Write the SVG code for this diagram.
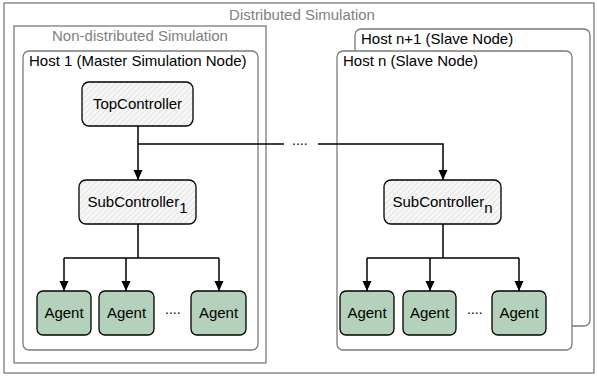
<svg xmlns="http://www.w3.org/2000/svg" width="597" height="378" viewBox="0 0 597 378">
<style>
.frame{fill:none;stroke:#7a7a7a;stroke-width:1.3}
.host{fill:#ffffff;stroke:#7a7a7a;stroke-width:1.3}
.glabel{font-family:"Liberation Sans",Arial,sans-serif;font-size:15px;fill:#808080}
.hlabel{font-family:"Liberation Sans",Arial,sans-serif;font-size:15px;fill:#000}
.ctrl{fill:url(#hatch);stroke:#000;stroke-width:1.3}
.agent{fill:#b3d1bb;stroke:#000;stroke-width:1.3}
.t{font-family:"Liberation Sans",Arial,sans-serif;font-size:15px;fill:#000;text-anchor:middle}
.line{fill:none;stroke:#000;stroke-width:1.5}
.dots{font-family:"Liberation Sans",Arial,sans-serif;font-size:14px;fill:#000}
</style>
<defs>
<pattern id="hatch" width="4" height="4" patternUnits="userSpaceOnUse" patternTransform="rotate(45)">
<rect width="4" height="4" fill="#f7f7f7"/>
<line x1="0" y1="0" x2="0" y2="4" stroke="#d6d6d6" stroke-width="1.2"/>
</pattern>
<marker id="arr" viewBox="0 0 10 10" refX="10" refY="5" markerWidth="10" markerHeight="10" markerUnits="userSpaceOnUse" orient="auto">
<path d="M0,0.5 L10,5 L0,9.5 Z" fill="#000"/>
</marker>
</defs>
<g id="distributed">
<rect class="frame" x="4" y="3" width="590" height="370"/>
<text class="glabel" x="302" y="20" text-anchor="middle">Distributed Simulation</text>
</g>
<g id="nondistributed">
<rect class="frame" x="14" y="26" width="252" height="337"/>
<text class="glabel" x="140" y="41" text-anchor="middle">Non-distributed Simulation</text>
</g>
<g id="host1">
<rect class="host" x="23" y="51" width="235" height="299" rx="6"/>
<text class="hlabel" x="29" y="66">Host 1 (Master Simulation Node)</text>
</g>
<g id="hostn1">
<rect class="host" x="355" y="29" width="235" height="297" rx="6"/>
<text class="hlabel" x="361" y="44">Host n+1 (Slave Node)</text>
</g>
<g id="hostn">
<rect class="host" x="337" y="51" width="235" height="299" rx="6"/>
<text class="hlabel" x="343" y="66">Host n (Slave Node)</text>
</g>
<g id="connectors">
<path class="line" d="M138,126 V180" marker-end="url(#arr)"/>
<path class="line" d="M138,144 H284"/>
<text class="dots" x="292" y="145">....</text>
<path class="line" d="M318,144 H443 V180" marker-end="url(#arr)"/>
<path class="line" d="M138,224 V258 M64,258 H219"/>
<path class="line" d="M64,258 V291" marker-end="url(#arr)"/>
<path class="line" d="M126,258 V291" marker-end="url(#arr)"/>
<path class="line" d="M219,258 V291" marker-end="url(#arr)"/>
<path class="line" d="M443,224 V258 M367,258 H519"/>
<path class="line" d="M367,258 V291" marker-end="url(#arr)"/>
<path class="line" d="M430,258 V291" marker-end="url(#arr)"/>
<path class="line" d="M519,258 V291" marker-end="url(#arr)"/>
</g>
<g id="topcontroller">
<rect class="ctrl" x="82" y="82" width="111" height="44" rx="7"/>
<text class="t" x="137.5" y="109">TopController</text>
</g>
<g id="subcontroller1">
<rect class="ctrl" x="79" y="180" width="117" height="44" rx="7"/>
<text class="t" x="137.5" y="207">SubController<tspan dy="6">1</tspan></text>
</g>
<g id="subcontrollern">
<rect class="ctrl" x="384" y="180" width="117" height="44" rx="7"/>
<text class="t" x="442.5" y="207">SubController<tspan dy="6">n</tspan></text>
</g>
<g id="agents1">
<rect class="agent" x="37" y="291" width="54" height="44" rx="6"/>
<text class="t" x="64" y="318">Agent</text>
<rect class="agent" x="99" y="291" width="55" height="44" rx="6"/>
<text class="t" x="126.5" y="318">Agent</text>
<text class="dots" x="165" y="314">....</text>
<rect class="agent" x="191" y="291" width="55" height="44" rx="6"/>
<text class="t" x="218.5" y="318">Agent</text>
</g>
<g id="agentsn">
<rect class="agent" x="340" y="291" width="54" height="44" rx="6"/>
<text class="t" x="367" y="318">Agent</text>
<rect class="agent" x="403" y="291" width="53" height="44" rx="6"/>
<text class="t" x="429.5" y="318">Agent</text>
<text class="dots" x="467" y="314">....</text>
<rect class="agent" x="492" y="291" width="54" height="44" rx="6"/>
<text class="t" x="519" y="318">Agent</text>
</g>
</svg>
